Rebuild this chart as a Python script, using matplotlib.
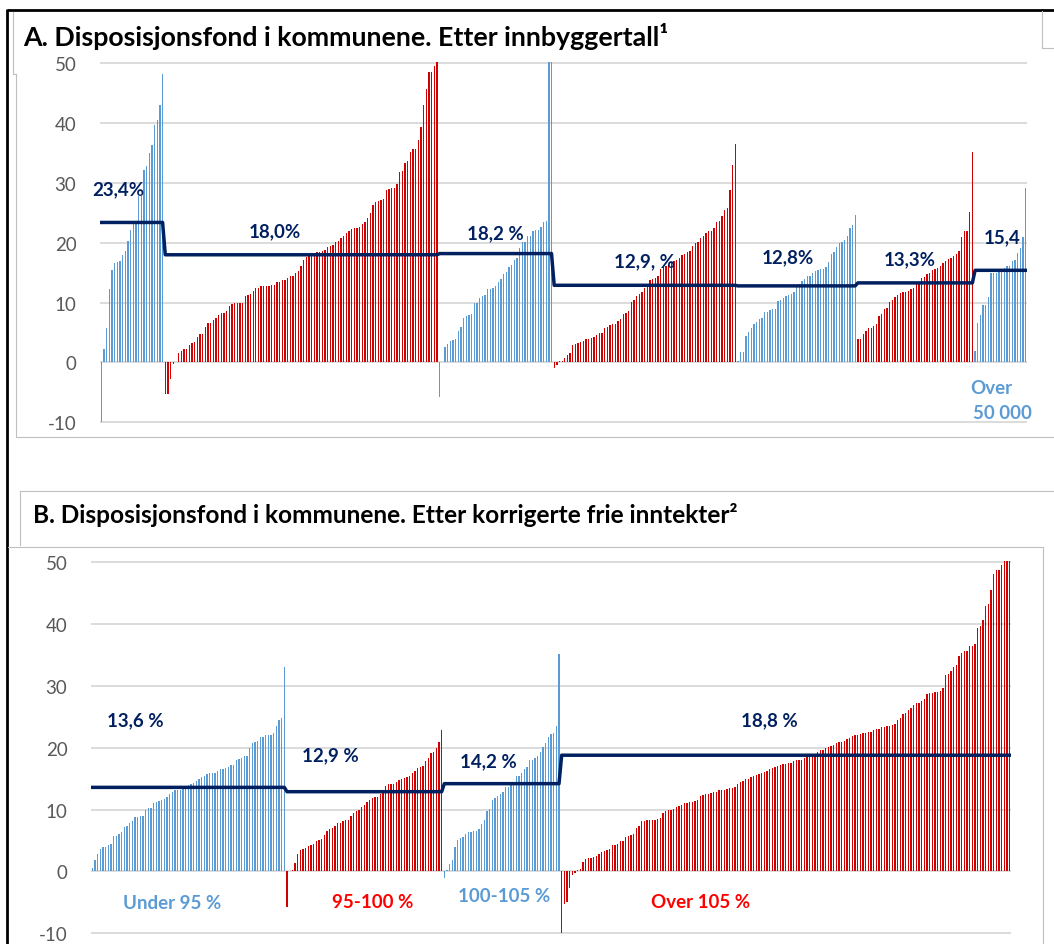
import matplotlib
matplotlib.use('Agg')
import matplotlib.pyplot as plt
import matplotlib.transforms as mtransforms
import numpy as np

plt.rcParams['font.family'] = ['Lato', 'DejaVu Sans']
plt.rcParams['axes.unicode_minus'] = False

# ---- data, panel A (by population size group), sorted values per group ----
a_g1 = [-10.0, 2.2, 5.7, 12.3, 15.5, 16.7, 16.8, 17.0, 18.0, 18.7, 20.3, 22.1, 23.1, 23.1,
        27.9, 27.9, 32.2, 32.9, 35.0, 36.3, 39.7, 40.6, 43.0, 48.2]
a_g2 = [-5.3, -5.3, -2.8, -0.3, 0.1, 1.6, 2.0, 2.2, 2.3, 2.9,
        3.3, 3.5, 4.2, 4.7, 4.7, 6.0, 6.6, 6.6, 7.1, 7.5,
        8.0, 8.2, 8.2, 8.6, 9.5, 9.7, 9.9, 10.0, 10.0, 10.0,
        11.1, 11.2, 11.4, 11.9, 12.5, 12.5, 12.7, 12.7, 12.8, 12.8,
        12.9, 12.9, 13.4, 13.5, 13.7, 13.8, 14.2, 14.4, 14.4, 15.0,
        15.3, 16.2, 17.2, 17.6, 17.8, 18.1, 18.3, 18.4, 18.5, 18.6,
        18.8, 19.3, 19.5, 19.7, 20.2, 20.3, 20.8, 21.2, 21.7, 22.0,
        22.3, 22.5, 22.5, 22.6, 23.1, 23.5, 24.1, 25.0, 26.3, 26.8,
        27.0, 27.2, 27.3, 28.9, 29.0, 29.1, 29.2, 29.8, 31.8, 32.0,
        33.3, 33.7, 35.1, 35.6, 35.7, 37.1, 39.4, 43.1, 45.7, 48.6,
        48.6, 49.6, 52.0]
a_g3 = [-5.7, 0.1, 2.6, 3.1, 3.6, 3.8, 3.9, 5.3, 5.9, 7.5, 7.8, 8.0, 8.1, 9.9, 10.0,
        10.7, 11.1, 11.3, 12.2, 12.3, 12.5, 12.7, 13.4, 14.0, 14.8, 15.2, 15.9, 16.3,
        17.2, 17.4, 19.1, 20.1, 20.2, 21.1, 21.1, 22.0, 22.1, 22.2, 22.7, 23.4, 23.6,
        55.0, 62.0]
a_g4 = [-1.0, -0.5, 0.2, 0.3, 0.8, 1.2, 1.6, 2.9, 3.1, 3.2, 3.5, 3.6, 4.0, 4.0, 4.1,
        4.3, 4.6, 4.9, 4.9, 5.8, 6.0, 6.2, 6.4, 6.4, 6.9, 7.2, 8.1, 8.2, 8.6, 10.1,
        10.5, 11.1, 11.4, 11.7, 12.5, 12.7, 13.7, 13.9, 14.2, 14.5, 15.6, 15.9, 16.1,
        16.3, 16.6, 16.9, 17.1, 17.5, 17.9, 18.2, 18.4, 18.7, 19.5, 20.0, 20.1, 20.8,
        21.1, 21.7, 21.9, 22.0, 22.4, 23.5, 23.6, 24.4, 25.5, 25.8, 28.8, 33.0, 36.5]
a_g5 = [0.2, 1.8, 1.8, 4.5, 5.1, 5.8, 6.4, 6.8, 7.2, 7.4, 8.4, 8.5, 8.7, 8.9, 9.0,
        10.3, 10.5, 10.8, 11.1, 11.3, 11.5, 11.8, 12.7, 13.1, 13.6, 14.0, 14.4, 14.5,
        14.9, 15.3, 15.5, 15.6, 15.7, 15.9, 16.8, 18.2, 18.5, 19.3, 19.9, 20.1, 20.4,
        21.2, 22.4, 22.9, 24.6]
a_g6 = [4.0, 4.0, 4.7, 5.3, 5.7, 5.8, 6.1, 6.4, 7.8, 8.1, 8.9, 9.1, 10.1, 10.5, 10.9,
        11.3, 11.6, 11.7, 11.8, 12.0, 12.2, 12.5, 13.4, 13.5, 14.2, 14.3, 14.8, 14.9,
        15.4, 15.6, 15.8, 16.2, 16.7, 17.0, 17.3, 17.5, 17.8, 18.2, 18.7, 21.0, 22.0,
        22.0, 25.1, 35.1]
a_g7 = [1.9, 6.6, 8.0, 9.6, 9.6, 11.0, 14.9, 14.9, 15.0, 15.2, 15.6, 15.8, 16.1, 16.2,
        16.9, 17.2, 18.3, 19.1, 20.9, 29.2]
a_means = [23.4, 18.0, 18.2, 12.9, 12.8, 13.3, 15.4]
a_mean_labels = ['23,4%', '18,0%', '18,2 %', '12,9, %', '12,8%', '13,3%', '15,4']

# ---- data, panel B (by corrected free income) ----
b_g1 = [0.5, 1.8, 2.8, 3.6, 3.9, 4.0, 4.2, 4.5, 5.7, 5.7, 6.0, 6.3, 7.2, 7.3, 7.9, 8.2,
        8.8, 8.8, 9.0, 9.0, 10.0, 10.2, 10.2, 11.1, 11.3, 11.4, 11.5, 11.7, 12.0, 12.5,
        12.8, 13.1, 13.1, 13.1, 13.5, 13.7, 14.0, 14.1, 14.3, 14.6, 14.9, 15.2, 15.4,
        15.7, 15.9, 16.0, 16.0, 16.3, 16.5, 16.5, 16.7, 16.9, 17.2, 17.2, 18.1, 18.2,
        18.4, 18.6, 18.7, 20.0, 20.8, 20.9, 21.1, 21.7, 21.8, 22.0, 22.0, 22.1, 22.4,
        23.5, 24.5, 24.9, 33.0]
b_g2 = [-5.7, 0.1, 0.2, 1.3, 2.9, 3.5, 3.7, 3.8, 4.1, 4.3, 4.5, 5.0, 5.1, 5.2, 5.9, 6.6,
        6.9, 7.1, 7.3, 7.8, 7.9, 8.1, 8.3, 8.4, 9.0, 9.5, 9.8, 10.0, 10.4, 10.8, 11.2,
        11.5, 11.9, 12.0, 12.1, 12.5, 13.2, 13.8, 14.1, 14.1, 14.2, 14.5, 14.8, 14.9,
        15.1, 15.2, 15.5, 15.9, 16.3, 16.8, 16.9, 17.1, 17.9, 18.3, 19.1, 19.3, 20.0,
        21.0, 22.9]
b_g3 = [-1.0, 0.2, 1.2, 1.9, 3.9, 5.1, 5.4, 5.6, 6.0, 6.4, 6.4, 6.5, 6.6, 6.9, 7.7, 8.3,
        9.8, 10.1, 11.5, 11.9, 12.2, 12.6, 12.8, 13.6, 13.7, 14.1, 14.2, 15.4, 15.5,
        16.0, 16.6, 16.9, 18.0, 18.1, 18.4, 18.7, 19.4, 20.2, 20.8, 21.7, 22.2, 22.4,
        23.6, 35.2]
b_g4 = [-10.0, -5.2, -5.0, -2.7, -0.5, -0.2, 0.2, 0.4, 1.5, 2.0, 2.2, 2.2, 2.4, 2.5, 2.9,
        3.1, 3.3, 3.5, 3.7, 4.2, 4.3, 4.5, 4.9, 5.0, 5.6, 5.7, 5.9, 6.1, 7.0, 7.4, 8.1,
        8.2, 8.3, 8.3, 8.3, 8.4, 8.5, 8.6, 9.5, 9.8, 9.9, 10.0, 10.1, 10.4, 10.6, 10.8,
        11.0, 11.1, 11.3, 11.3, 11.4, 11.5, 12.2, 12.4, 12.5, 12.6, 12.7, 12.8, 12.9,
        13.1, 13.1, 13.2, 13.3, 13.5, 13.5, 13.7, 14.2, 14.5, 14.7, 14.9, 15.0, 15.2,
        15.5, 15.6, 15.7, 15.9, 16.1, 16.3, 16.5, 16.7, 16.9, 17.0, 17.2, 17.4, 17.4,
        17.5, 17.5, 17.8, 18.0, 18.0, 18.0, 18.4, 18.6, 18.7, 18.9, 19.0, 19.4, 19.6,
        19.7, 20.0, 20.2, 20.3, 20.4, 20.7, 20.9, 21.0, 21.1, 21.4, 21.6, 21.9, 22.0,
        22.1, 22.2, 22.4, 22.4, 22.5, 22.5, 22.8, 23.0, 23.1, 23.3, 23.4, 23.5, 23.6,
        23.7, 23.9, 24.5, 24.8, 25.4, 25.7, 26.1, 26.5, 27.0, 27.2, 27.3, 27.6, 27.9,
        28.7, 28.9, 28.9, 29.0, 29.1, 29.2, 29.7, 31.7, 31.9, 32.5, 33.0, 33.4, 34.9,
        35.3, 35.6, 35.7, 36.4, 36.5, 36.8, 39.4, 39.7, 40.6, 43.0, 43.3, 45.6, 48.1,
        48.7, 48.8, 49.5, 50.5, 51.0, 52.0]
b_means = [13.6, 12.9, 14.2, 18.8]
b_mean_labels = ['13,6 %', '12,9 %', '14,2 %', '18,8 %']
b_groups = ['Under 95 %', '95-100 %', '100-105 %', 'Over 105 %']

BLUE = '#5B9BD5'
RED = '#D00000'
BRIGHT_RED = '#FF0000'
NAVY = '#002060'
GRID = '#D9D9D9'
TICK = '#595959'
FRAME = '#BFBFBF'

W, H = 1054, 945


def draw_panel(ax, groups, colors, means):
    vals = np.concatenate(groups)
    cols = np.concatenate([[c] * len(g) for g, c in zip(groups, colors)])
    line = np.concatenate([[m] * len(g) for g, m in zip(groups, means)])
    x = np.arange(len(vals))
    ax.bar(x, vals, width=0.5, color=cols, linewidth=0, zorder=2)
    ax.plot(x, line, color=NAVY, lw=2.5, zorder=3)
    ax.set_xlim(-0.5, len(vals) - 0.5)
    ax.set_ylim(-10.15, 50.15)
    ax.set_yticks(range(-10, 51, 10))
    ax.yaxis.grid(True, color=GRID, lw=1.3)
    ax.set_axisbelow(True)
    ax.set_xticks([])
    for s in ax.spines.values():
        s.set_visible(False)
    ax.tick_params(axis='y', length=0, pad=17, labelsize=13.5, labelcolor=TICK)
    ax.patch.set_alpha(0)


def px_axes(left, right, top, bottom):
    return [left / W, 1 - bottom / H, (right - left) / W, (bottom - top) / H]


fig = plt.figure(figsize=(W / 100, H / 100), dpi=100)

# frames and titles drawn in pixel space
ov = fig.add_axes([0, 0, 1, 1])
ov.set_xlim(0, W)
ov.set_ylim(H, 0)
ov.axis('off')
ov.plot([7, W], [11, 11], color='black', lw=2, solid_capstyle='butt')
ov.plot([7, 7], [10, H], color='black', lw=2, solid_capstyle='butt')
ov.plot([12.5, 12.5, 16], [13, 75, 75], color=FRAME, lw=0.8)
ov.plot([16, 16, W], [75, 438, 438], color=FRAME, lw=0.8)
ov.plot([1042, 1042, W], [12, 49, 49], color=FRAME, lw=0.8)
ov.plot([20, 20], [546, 492], color=FRAME, lw=0.8)
ov.plot([20, W], [492, 492], color=FRAME, lw=0.8)
ov.plot([8, 1043, 1043], [548, 548, H], color=FRAME, lw=0.8)

ov.text(23, 46, 'A. Disposisjonsfond i kommunene. Etter innbyggertall\u00b9',
        fontsize=19.3, fontweight='bold', color='black', va='baseline')
ov.text(33, 522.7, 'B. Disposisjonsfond i kommunene. Etter korrigerte frie inntekter\u00b2',
        fontsize=17.6, fontweight='bold', color='black', va='baseline')

# panel A
ax1 = fig.add_axes(px_axes(100, 1027, 63.4, 424.2))
draw_panel(ax1, [a_g1, a_g2, a_g3, a_g4, a_g5, a_g6, a_g7],
           [BLUE, RED, BLUE, RED, BLUE, RED, BLUE], a_means)
t1 = mtransforms.blended_transform_factory(ax1.transAxes, ax1.transData)
a_label_pos = [(0.0198, 29.0), (0.189, 22.0), (0.426, 21.6), (0.587, 17.0),
               (0.742, 17.6), (0.874, 17.4), (0.973, 21.0)]
for txt, (xf, yv) in zip(a_mean_labels, a_label_pos):
    ax1.text(xf, yv, txt, transform=t1, ha='center', va='center',
             fontsize=13.5, fontweight='bold', color=NAVY)
ax1.text(0.961, -4.1, 'Over', transform=t1, ha='center', va='center',
         fontsize=13.5, fontweight='bold', color=BLUE)
ax1.text(0.974, -8.3, '50 000', transform=t1, ha='center', va='center',
         fontsize=13.5, fontweight='bold', color=BLUE, clip_on=False)

# panel B
ax2 = fig.add_axes(px_axes(91, 1011, 562.4, 935.2))
draw_panel(ax2, [b_g1, b_g2, b_g3, b_g4], [BLUE, RED, BLUE, RED], b_means)
t2 = mtransforms.blended_transform_factory(ax2.transAxes, ax2.transData)
b_label_pos = [(0.0478, 24.5), (0.260, 18.9), (0.4315, 17.9), (0.737, 24.5)]
for txt, (xf, yv) in zip(b_mean_labels, b_label_pos):
    ax2.text(xf, yv, txt, transform=t2, ha='center', va='center',
             fontsize=13.5, fontweight='bold', color=NAVY)
b_group_pos = [(0.0886, -5.0), (0.3065, -4.8), (0.449, -3.95), (0.663, -4.8)]
b_group_cols = [BLUE, BRIGHT_RED, BLUE, BRIGHT_RED]
for txt, (xf, yv), c in zip(b_groups, b_group_pos, b_group_cols):
    ax2.text(xf, yv, txt, transform=t2, ha='center', va='center',
             fontsize=13.5, fontweight='bold', color=c)

fig.savefig('out.png', dpi=100, facecolor='white')
